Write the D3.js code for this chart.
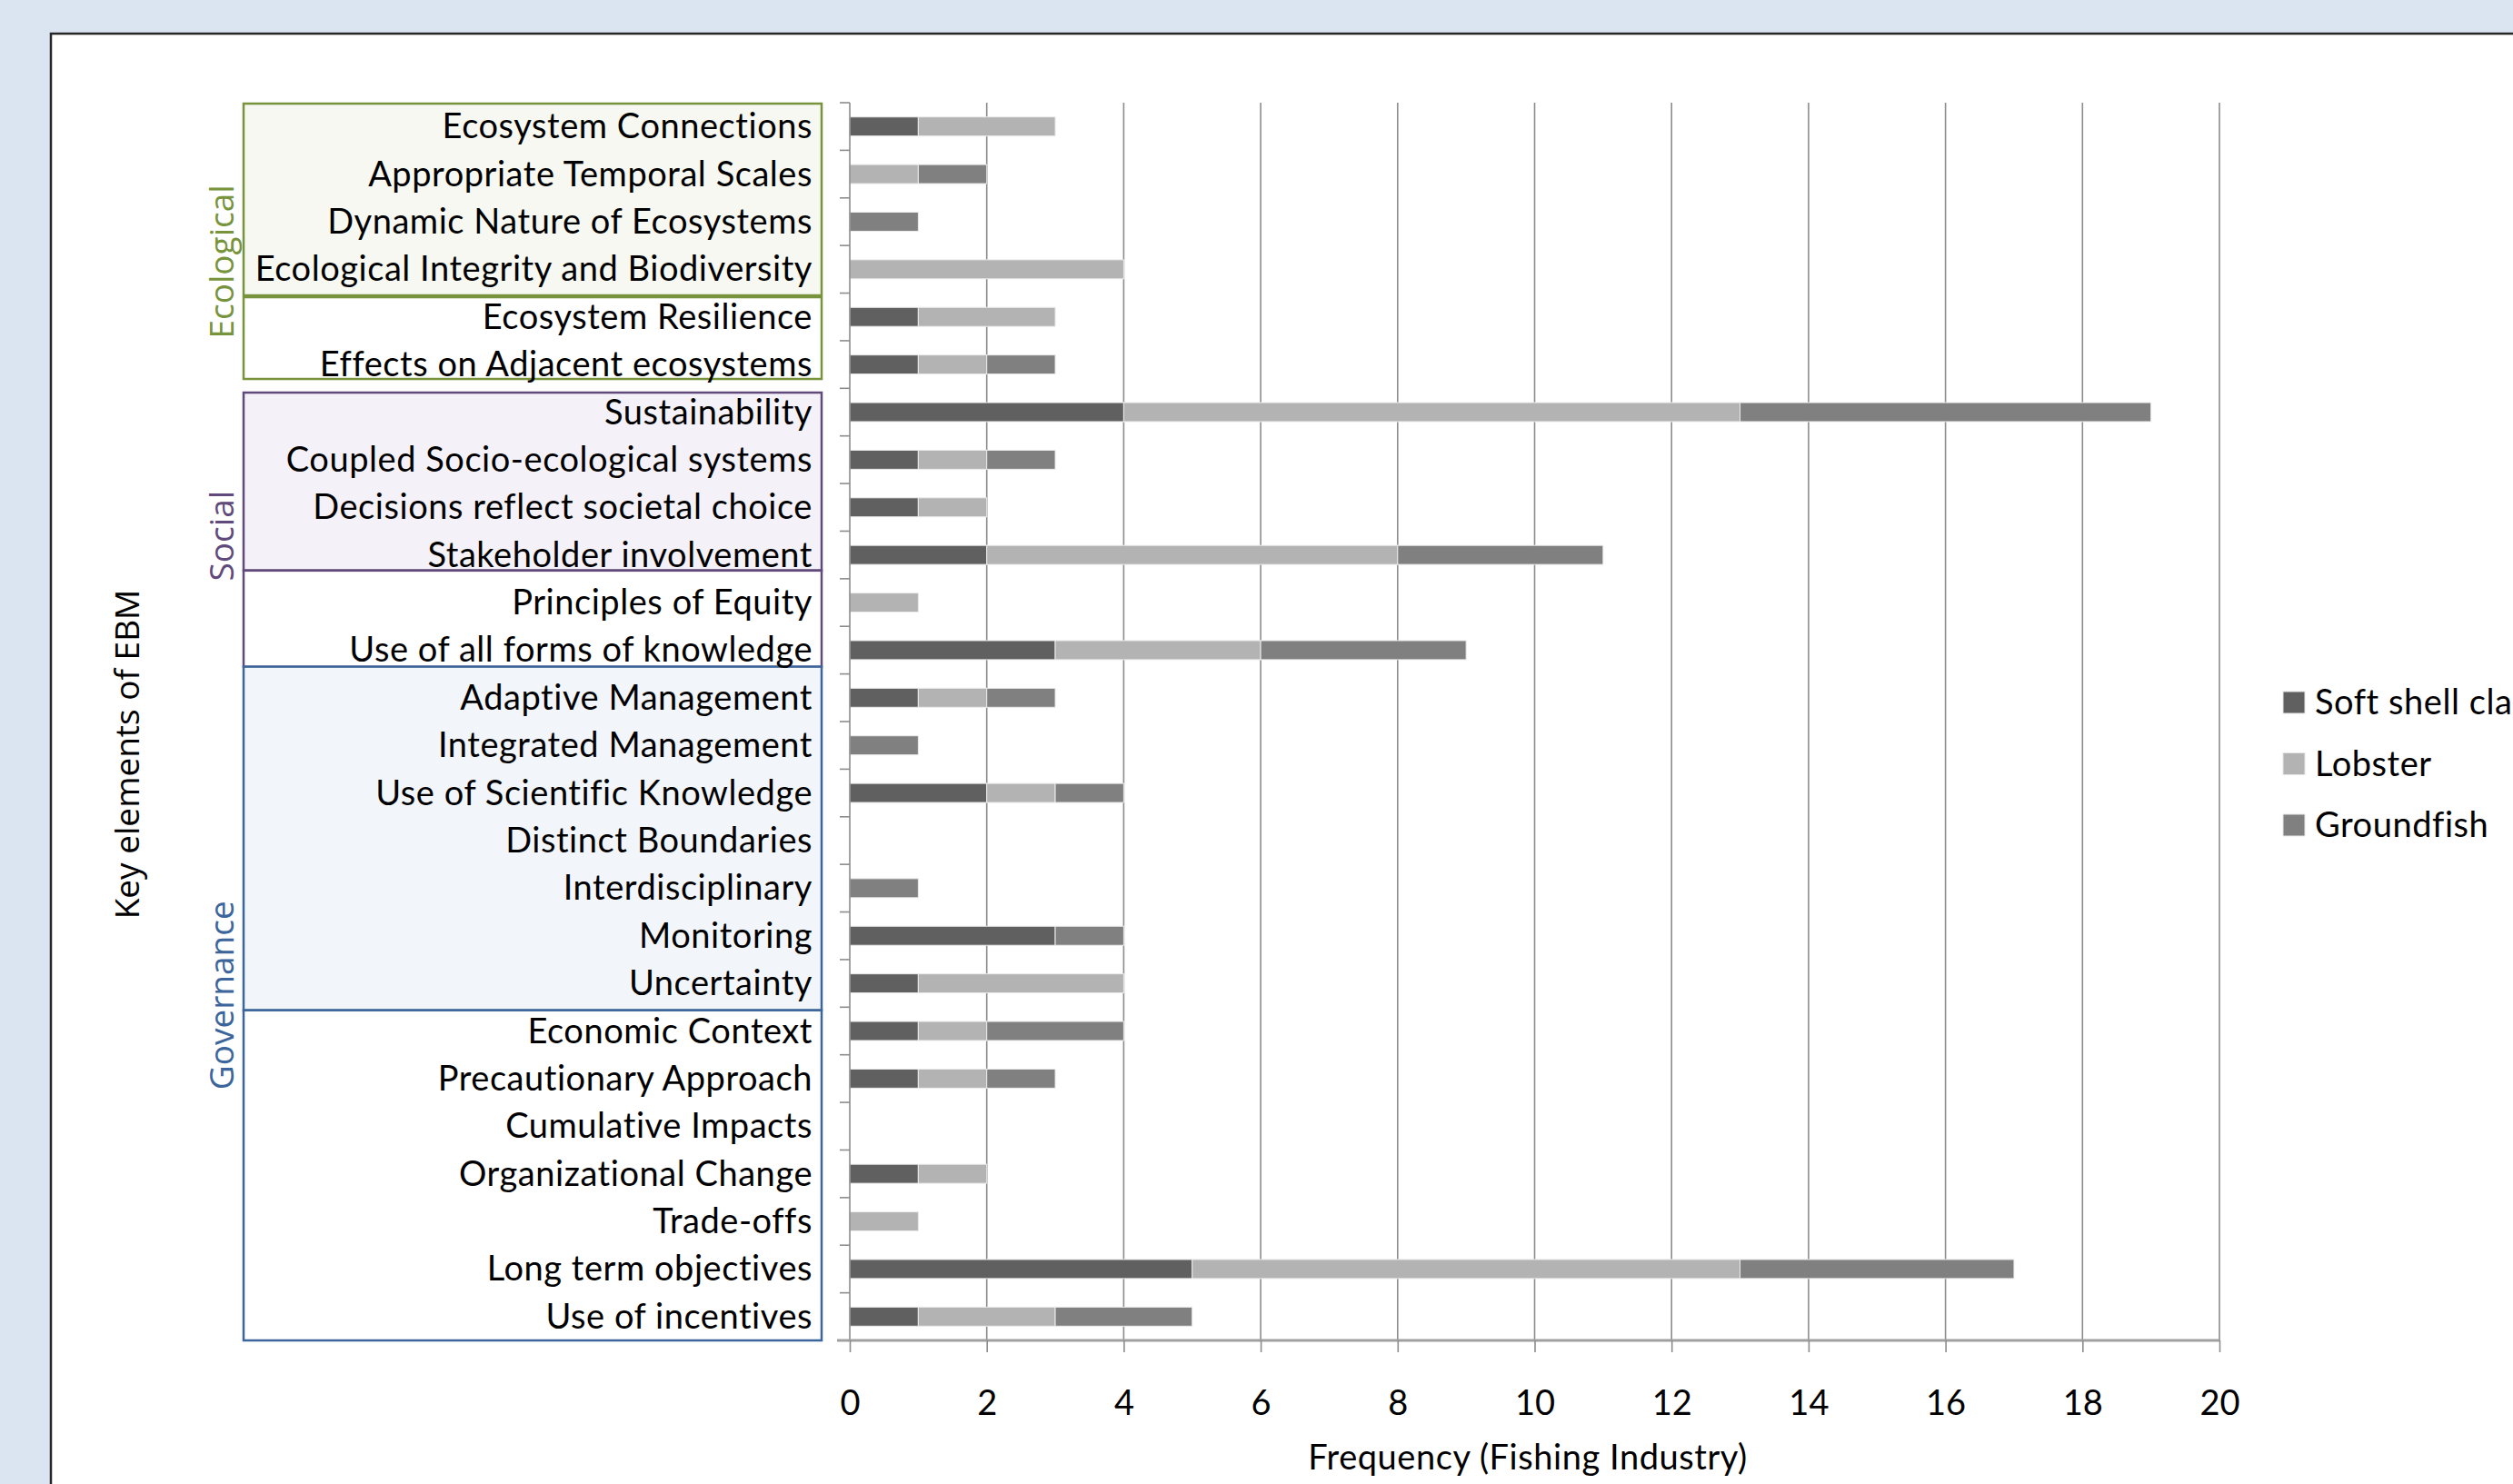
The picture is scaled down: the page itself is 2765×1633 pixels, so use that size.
<!DOCTYPE html>
<html><head><meta charset="utf-8">
<script src="https://cdn.jsdelivr.net/npm/d3@7"></script>
<style>html,body{margin:0;padding:0;background:#dbe5f1;overflow:hidden}</style>
</head><body>
<svg id="chart" width="2765" height="1633"></svg>
<script>
// ---------------- DATA ----------------
const categories = [
  "Ecosystem Connections","Appropriate Temporal Scales","Dynamic Nature of Ecosystems",
  "Ecological Integrity and Biodiversity","Ecosystem Resilience","Effects on Adjacent ecosystems",
  "Sustainability","Coupled Socio-ecological systems","Decisions reflect societal choice",
  "Stakeholder involvement","Principles of Equity","Use of all forms of knowledge",
  "Adaptive Management","Integrated Management","Use of Scientific Knowledge",
  "Distinct Boundaries","Interdisciplinary","Monitoring","Uncertainty",
  "Economic Context","Precautionary Approach","Cumulative Impacts","Organizational Change",
  "Trade-offs","Long term objectives","Use of incentives"
];
const softShellClam = [1,0,0,0,1,1, 4,1,1,2,0,3, 1,0,2,0,0,3,1, 1,1,0,1,0,5,1];
const lobster       = [2,1,0,4,2,1, 9,1,1,6,1,3, 1,0,1,0,0,0,3, 1,1,0,1,1,8,2];
const groundfish    = [0,1,1,0,0,1, 6,1,0,3,0,3, 1,1,1,0,1,1,0, 2,1,0,0,0,4,2];
const seriesNames = ["Soft shell clam","Lobster","Groundfish"];
const xTicks = [0,2,4,6,8,10,12,14,16,18,20];
const xTitle = "Frequency (Fishing Industry)";
const yTitle = "Key elements of EBM";
const groupNames = ["Ecological","Social","Governance"];
// boxes: [group, first category index, last category index, shaded]
const boxGroup = [0,0,1,1,2,2];
const boxFirst = [0,4,6,10,12,19];
const boxLast  = [3,5,9,11,18,25];
const boxShaded = [true,false,true,false,true,false];

// ---------------- STYLE / LAYOUT ----------------
const W = 2765, H = 1633;
const plot = {left: 935, right: 2442, top: 113, bottom: 1475};
const seriesColors = ["#606060","#b3b3b3","#808080"];
const groupColors = ["#77933c","#604a7b","#3b659b"];
const groupFills = ["#f6f8f1","#f4f2f8","#f2f6fb"];
// fine-tune offsets (px) of hand-drawn annotation boxes relative to row edges
const boxTopOff = [1, 4.5, 4.7, -9, -8, 3.4];
const boxBotOff = [2.5, -10.3, -9.2, -7.8, 3.4, 0];
const groupLabelRow = [3.34, 9.1, 18.75]; // row position of label centre
const labelFont = "Lato, 'Open Sans', sans-serif";
const labelSize = 38, labelSpacing = 0.55;
const wideFont = "'Open Sans', 'DejaVu Sans', sans-serif";

const svg = d3.select("#chart");
svg.append("rect").attr("x",0).attr("y",0).attr("width",W).attr("height",H).attr("fill","#dbe5f1");
svg.append("rect").attr("x",56).attr("y",37).attr("width",W).attr("height",H)
  .attr("fill","#ffffff").attr("stroke","#262626").attr("stroke-width",2.5);

const x = d3.scaleLinear().domain([0,20]).range([plot.left, plot.right]);
const y = d3.scaleBand().domain(categories).range([plot.top, plot.bottom])
  .paddingInner(0.6).paddingOuter(0.3);
const rowStep = (plot.bottom - plot.top) / categories.length;
const rowEdge = i => plot.top + i * rowStep;

// group boxes
const boxes = boxGroup.map((g,i)=>({g, first:boxFirst[i], last:boxLast[i], shaded:boxShaded[i], i}));
svg.append("g").selectAll("rect").data(boxes).join("rect")
  .attr("x", 268).attr("width", 904-268)
  .attr("y", d => rowEdge(d.first) + boxTopOff[d.i])
  .attr("height", d => (rowEdge(d.last+1) + boxBotOff[d.i]) - (rowEdge(d.first) + boxTopOff[d.i]))
  .attr("fill", d => d.shaded ? groupFills[d.g] : "#ffffff")
  .attr("stroke", d => groupColors[d.g]).attr("stroke-width", 2.5);

// group labels
svg.append("g").selectAll("text").data(groupNames).join("text")
  .attr("transform", (d,i)=>`translate(257,${rowEdge(0) + groupLabelRow[i]*rowStep}) rotate(-90)`)
  .attr("text-anchor","middle").attr("font-family", wideFont).attr("font-size",37)
  .attr("fill",(d,i)=>groupColors[i]).text(d=>d);

// y title
svg.append("text").attr("transform","translate(153,830) rotate(-90)")
  .attr("text-anchor","middle").attr("font-family", wideFont).attr("font-size",37)
  .attr("fill","#000").text(yTitle);

// gridlines
const grid = svg.append("g");
grid.selectAll("line").data(xTicks.filter(t=>t>0)).join("line")
  .attr("x1",d=>x(d)).attr("x2",d=>x(d)).attr("y1",plot.top).attr("y2",plot.bottom)
  .attr("stroke","#8c8c8c").attr("stroke-width",1.6);

// bars
const table = categories.map((c,i)=>({cat:c, s0:softShellClam[i], s1:lobster[i], s2:groundfish[i]}));
const stack = d3.stack().keys(["s0","s1","s2"])(table);
svg.append("g").selectAll("g").data(stack).join("g")
  .attr("fill",(d,i)=>seriesColors[i])
  .selectAll("rect").data(d=>d.filter(p=>p[1]-p[0]>0)).join("rect")
  .attr("x",p=>x(p[0])).attr("width",p=>x(p[1])-x(p[0]))
  .attr("y",p=>y(p.data.cat)).attr("height",y.bandwidth())
  .attr("stroke","#ececec").attr("stroke-width",1);

// left axis
const yAxisG = svg.append("g").attr("transform",`translate(${plot.left},0)`);
yAxisG.append("line").attr("x1",0).attr("x2",0).attr("y1",plot.top).attr("y2",plot.bottom)
  .attr("stroke","#8c8c8c").attr("stroke-width",1.6);
yAxisG.selectAll("line.t").data(d3.range(categories.length+1)).join("line").attr("class","t")
  .attr("x1",-11).attr("x2",0).attr("y1",i=>rowEdge(i)).attr("y2",i=>rowEdge(i))
  .attr("stroke","#8c8c8c").attr("stroke-width",1.6);

// category labels
svg.append("g").selectAll("text").data(categories).join("text")
  .attr("x",894).attr("y",d=>y(d)+y.bandwidth()/2+13)
  .attr("text-anchor","end").attr("font-family",labelFont).attr("font-size",labelSize)
  .attr("letter-spacing",labelSpacing)
  .attr("fill","#000").text(d=>d);

// bottom axis
const xAxis = d3.axisBottom(x).tickValues(xTicks).tickSize(13).tickPadding(0).tickFormat(d3.format("d"));
const xg = svg.append("g").attr("transform",`translate(0,${plot.bottom})`).call(xAxis);
xg.select(".domain").attr("stroke","#a0a0a0").attr("stroke-width",3)
  .attr("d",`M${plot.left-14},0H${plot.right}`);
xg.selectAll(".tick line").attr("stroke","#8c8c8c").attr("stroke-width",1.6);
xg.selectAll(".tick text").attr("font-family",labelFont).attr("font-size",labelSize)
  .attr("fill","#000").attr("dy",null).attr("y",82);

svg.append("text").attr("x",1681).attr("y",1617).attr("text-anchor","middle")
  .attr("font-family",labelFont).attr("font-size",labelSize).attr("letter-spacing",labelSpacing)
  .attr("fill","#000").text(xTitle);

// legend
const lg = svg.append("g").attr("transform","translate(2512,773)");
const li = lg.selectAll("g").data(seriesNames).join("g")
  .attr("transform",(d,i)=>`translate(0,${i*67.5})`);
li.append("rect").attr("x",0).attr("y",-12).attr("width",24).attr("height",24)
  .attr("fill",(d,i)=>seriesColors[i]).attr("stroke","#e6e6e6").attr("stroke-width",1);
li.append("text").attr("x",35).attr("y",13).attr("font-family",labelFont).attr("font-size",labelSize)
  .attr("letter-spacing",labelSpacing)
  .attr("fill","#000").text(d=>d);
</script>
</body></html>
